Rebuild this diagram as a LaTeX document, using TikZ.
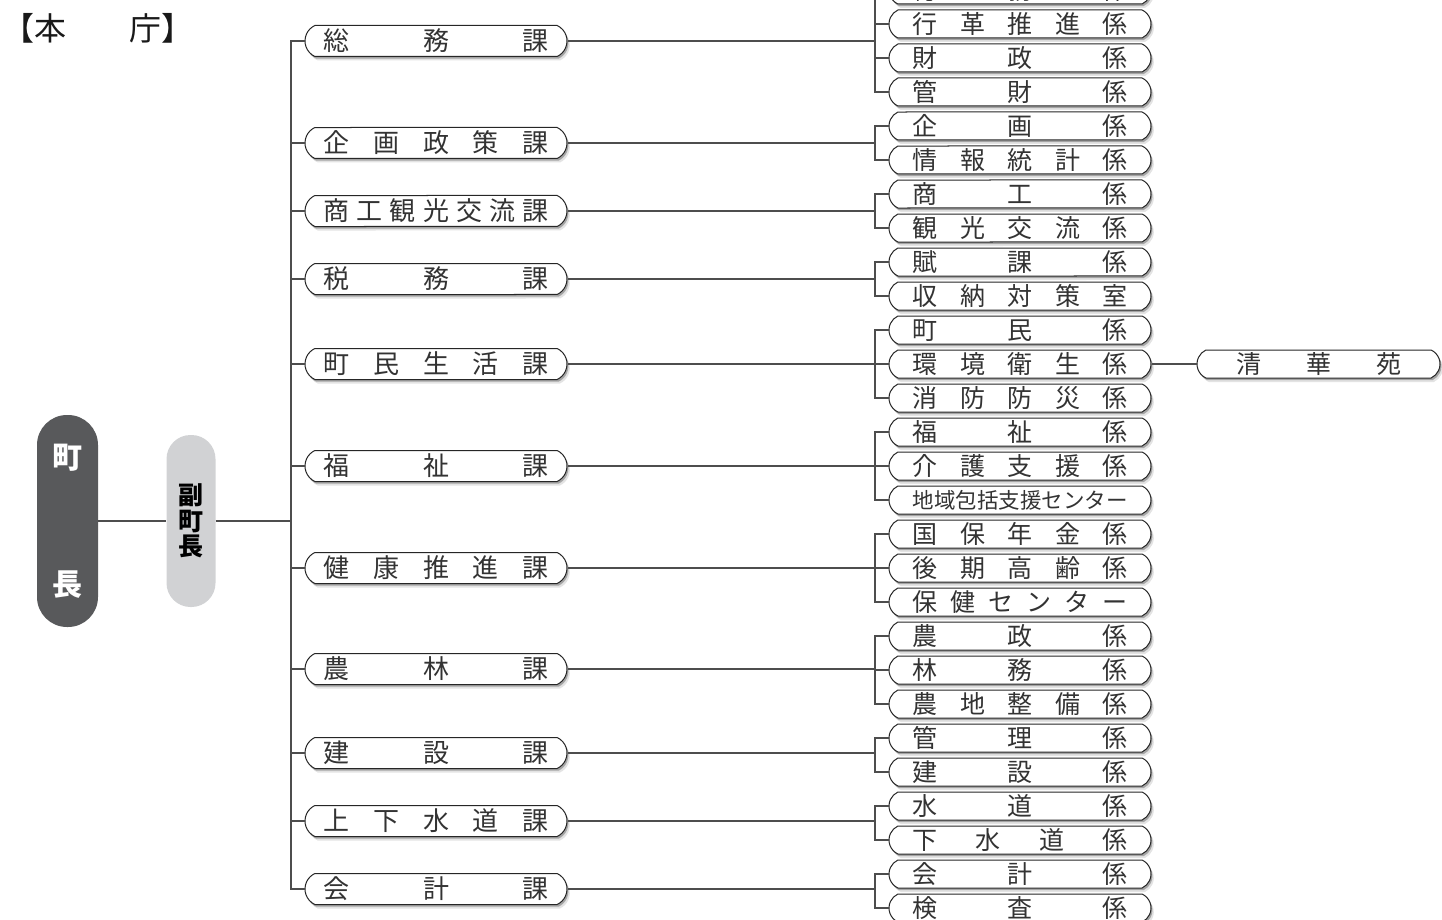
\documentclass[tikz,border=0pt]{standalone}
\usepackage{fontspec}
\setmainfont{Noto Sans CJK JP}
\usetikzlibrary{shapes.misc,shadows}
\definecolor{linec}{HTML}{4D4D4D}
\definecolor{txtc}{HTML}{333333}
\definecolor{chouc}{HTML}{58595B}
\definecolor{fukuc}{HTML}{D1D2D4}
\newcommand\hf{\hfill}
\newcommand\SecT[1]{\makebox[226pt]{#1}}
\newcommand\SubT[1]{\makebox[215pt]{#1}}
\tikzset{
  tagbase/.style={rounded rectangle, rounded rectangle arc length=130,
    draw=black!85, line width=1pt, fill=white, inner sep=0pt, text=txtc,
    drop shadow={shadow xshift=2.8pt,shadow yshift=-4pt,fill=black!22},
    drop shadow={shadow xshift=1.4pt,shadow yshift=-2.2pt,fill=black!60}},
  sect/.style={tagbase, minimum width=262pt, minimum height=31pt, font=\fontsize{26}{26}\selectfont},
  sub/.style={tagbase, minimum width=262pt, minimum height=28pt, font=\fontsize{25}{25}\selectfont},
  conn/.style={draw=linec, line width=1.1pt},
}
\begin{document}
\begin{tikzpicture}[x=1pt,y=-1pt]
\useasboundingbox (0,0) rectangle (1442,920);
\node[anchor=west, inner sep=0pt, text=black!90, font=\fontsize{32}{32}\selectfont] (title) at (2,28) {【本\hspace{63pt}庁】};

\node[fill=chouc, rounded corners=30pt, minimum width=61pt, minimum height=212pt, inner sep=0pt,
  text=white, align=center, font=\bfseries\fontsize{30}{30}\selectfont] (chou) at (67.5,521) {町\\[97pt]長};
\node[fill=fukuc, rounded corners=24pt, minimum width=49pt, minimum height=172pt, inner sep=0pt,
  text=black, align=center, font=\bfseries\fontsize{25}{25.5}\selectfont] (fuku) at (191,521) {副\\町\\長};

\coordinate (t) at (291,521);
\coordinate (b) at (875,0);

% sections
\node[sect] (s1) at (436,41) {\SecT{総\hf 務\hf 課}};
\node[sect] (s2) at (436,143) {\SecT{企\hf 画\hf 政\hf 策\hf 課}};
\node[sect] (s3) at (436,211) {\SecT{商\hf 工\hf 観\hf 光\hf 交\hf 流\hf 課}};
\node[sect] (s4) at (436,279) {\SecT{税\hf 務\hf 課}};
\node[sect] (s5) at (436,364) {\SecT{町\hf 民\hf 生\hf 活\hf 課}};
\node[sect] (s6) at (436,466) {\SecT{福\hf 祉\hf 課}};
\node[sect] (s7) at (436,568) {\SecT{健\hf 康\hf 推\hf 進\hf 課}};
\node[sect] (s8) at (436,669) {\SecT{農\hf 林\hf 課}};
\node[sect] (s9) at (436,753) {\SecT{建\hf 設\hf 課}};
\node[sect] (s10) at (436,821) {\SecT{上\hf 下\hf 水\hf 道\hf 課}};
\node[sect] (s11) at (436,889) {\SecT{会\hf 計\hf 課}};

% sub units
\node[sub] (c0) at (1020,-10) {\SubT{総\hf 務\hf 係}};
\node[sub] (c1) at (1020,24) {\SubT{行\hf 革\hf 推\hf 進\hf 係}};
\node[sub] (c2) at (1020,58) {\SubT{財\hf 政\hf 係}};
\node[sub] (c3) at (1020,92) {\SubT{管\hf 財\hf 係}};
\node[sub] (c4) at (1020,126) {\SubT{企\hf 画\hf 係}};
\node[sub] (c5) at (1020,160) {\SubT{情\hf 報\hf 統\hf 計\hf 係}};
\node[sub] (c6) at (1020,194) {\SubT{商\hf 工\hf 係}};
\node[sub] (c7) at (1020,228) {\SubT{観\hf 光\hf 交\hf 流\hf 係}};
\node[sub] (c8) at (1020,262) {\SubT{賦\hf 課\hf 係}};
\node[sub] (c9) at (1020,296) {\SubT{収\hf 納\hf 対\hf 策\hf 室}};
\node[sub] (c10) at (1020,330) {\SubT{町\hf 民\hf 係}};
\node[sub] (c11) at (1020,364) {\SubT{環\hf 境\hf 衛\hf 生\hf 係}};
\node[sub] (c12) at (1020,398) {\SubT{消\hf 防\hf 防\hf 災\hf 係}};
\node[sub] (c13) at (1020,432) {\SubT{福\hf 祉\hf 係}};
\node[sub] (c14) at (1020,466) {\SubT{介\hf 護\hf 支\hf 援\hf 係}};
\node[sub, font=\fontsize{21.5}{21.5}\selectfont] (c15) at (1020,500) {\SubT{地域包括支援センター}};
\node[sub] (c16) at (1020,534) {\SubT{国\hf 保\hf 年\hf 金\hf 係}};
\node[sub] (c17) at (1020,568) {\SubT{後\hf 期\hf 高\hf 齢\hf 係}};
\node[sub] (c18) at (1020,602) {\SubT{保\hf 健\hf セ\hf ン\hf タ\hf ー}};
\node[sub] (c19) at (1020,636) {\SubT{農\hf 政\hf 係}};
\node[sub] (c20) at (1020,670) {\SubT{林\hf 務\hf 係}};
\node[sub] (c21) at (1020,704) {\SubT{農\hf 地\hf 整\hf 備\hf 係}};
\node[sub] (c22) at (1020,738) {\SubT{管\hf 理\hf 係}};
\node[sub] (c23) at (1020,772) {\SubT{建\hf 設\hf 係}};
\node[sub] (c24) at (1020,806) {\SubT{水\hf 道\hf 係}};
\node[sub] (c25) at (1020,840) {\SubT{下\hf 水\hf 道\hf 係}};
\node[sub] (c26) at (1020,874) {\SubT{会\hf 計\hf 係}};
\node[sub] (c27) at (1020,908) {\SubT{検\hf 査\hf 係}};

\node[sub] (seika) at (1318.5,364) [minimum width=243pt] {\makebox[165pt]{清\hf 華\hf 苑}};

% connectors
\draw[conn] (chou.east) -- (fuku.west);
\draw[conn] (fuku.east) -- (t);
\foreach \s in {s1,s2,s3,s4,s5,s6,s7,s8,s9,s10,s11}
  \draw[conn] (t) |- (\s.west);

\foreach \s/\cl in {s1/{c0,c1,c2,c3}, s2/{c4,c5}, s3/{c6,c7}, s4/{c8,c9},
    s5/{c10,c11,c12}, s6/{c13,c14,c15}, s7/{c16,c17,c18}, s8/{c19,c20,c21},
    s9/{c22,c23}, s10/{c24,c25}, s11/{c26,c27}} {
  \draw[conn] (\s.east) -- (\s.east -| b);
  \foreach \c in \cl
    \draw[conn] (\s.east -| b) |- (\c.west);
}
\draw[conn] (c11.east) -- (seika.west);
\end{tikzpicture}
\end{document}
